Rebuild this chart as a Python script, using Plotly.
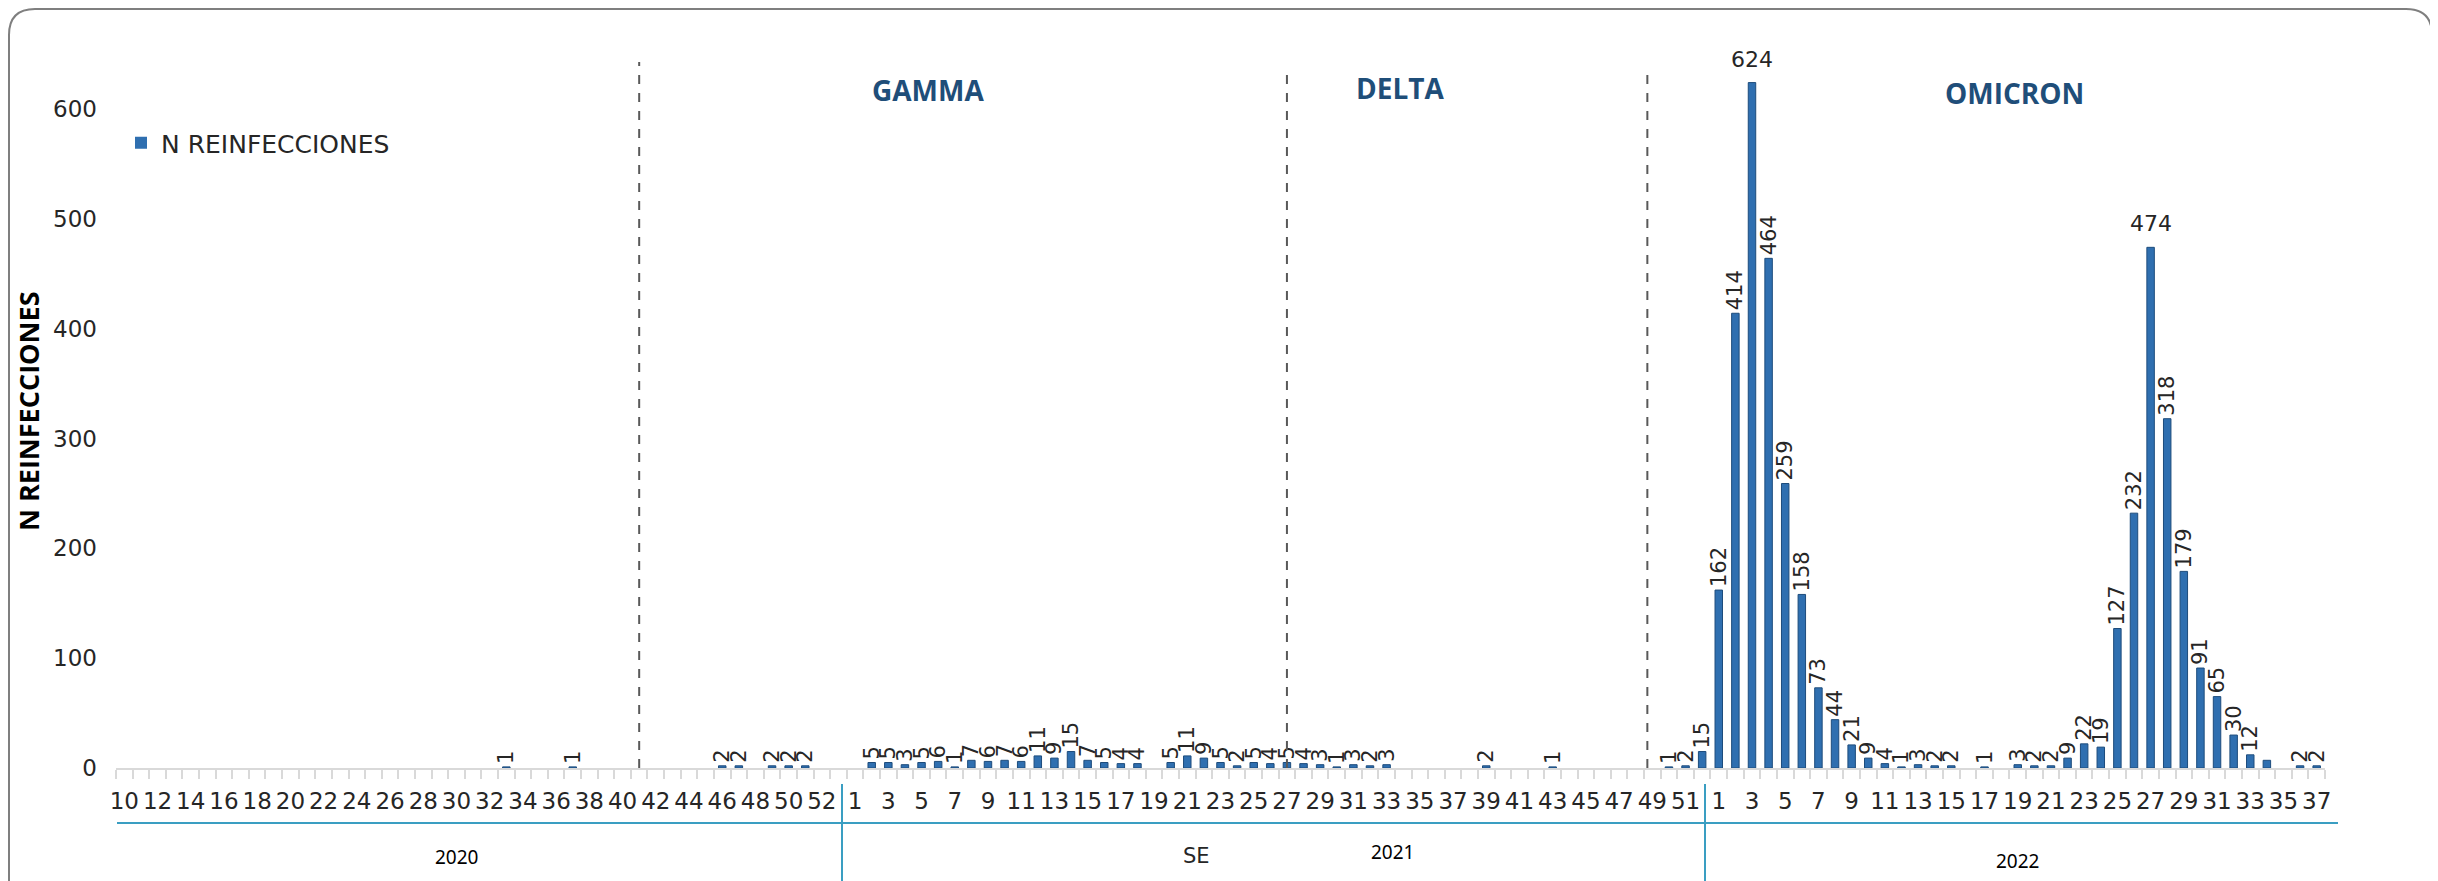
import plotly.graph_objects as go

# ---------------- data ----------------
weeks_2020 = list(range(10, 54))
reinf_2020 = [0, 0, 0, 0, 0, 0, 0, 0, 0, 0,
              0, 0, 0, 0, 0, 0, 0, 0, 0, 0,
              0, 0, 0, 1, 0, 0, 0, 1, 0, 0,
              0, 0, 0, 0, 0, 0, 2, 2, 0, 2,
              2, 2, 0, 0]
weeks_2021 = list(range(1, 53))
reinf_2021 = [0, 5, 5, 3, 5, 6, 1, 7, 6, 7,
              6, 11, 9, 15, 7, 5, 4, 4, 0, 5,
              11, 9, 5, 2, 5, 4, 5, 4, 3, 1,
              3, 2, 3, 0, 0, 0, 0, 0, 2, 0,
              0, 0, 1, 0, 0, 0, 0, 0, 0, 1,
              2, 15]
weeks_2022 = list(range(1, 38))
reinf_2022 = [162, 414, 624, 464, 259, 158, 73, 44, 21, 9,
              4, 1, 3, 2, 2, 0, 1, 0, 3, 2,
              2, 9, 22, 19, 127, 232, 474, 318, 179, 91,
              65, 30, 12, 7, 0, 2, 2]
years = ["2020", "2021", "2022"]
variants = ["GAMMA", "DELTA", "OMICRON"]
y_ticks = [0, 100, 200, 300, 400, 500, 600]
horizontal_labels = [("2022", 3), ("2022", 27)]   # labels drawn horizontally
hidden_labels = [("2022", 34)]                     # label not shown in source
series_name = "N REINFECCIONES"

# ---------------- assemble ----------------
weeks = weeks_2020 + weeks_2021 + weeks_2022
values = reinf_2020 + reinf_2021 + reinf_2022
year_of = [years[0]] * len(weeks_2020) + [years[1]] * len(weeks_2021) + [years[2]] * len(weeks_2022)
idx = list(range(len(values)))


def index_of(year, week):
    for i, (y, w) in enumerate(zip(year_of, weeks)):
        if y == year and w == week:
            return i
    return None


special = set(horizontal_labels) | set(hidden_labels)
text = [("" if (v == 0 or (yr, w) in special) else str(v))
        for v, yr, w in zip(values, year_of, weeks)]
outline_w = [1 if v > 0 else 0 for v in values]

# ---------------- geometry ----------------
# page body has an 8px margin; the figure is sized to fit the 2438x881 window
OFF = 8
FIG_W, FIG_H = 2438 - OFF, 881 - OFF
ML, MR, MT, MB = 108, 113, 57, 113
PW = FIG_W - ML - MR
PH = FIG_H - MT - MB


def px(X):
    """reference-window pixel x -> paper"""
    return (X - OFF - ML) / PW


def py(Y):
    """reference-window pixel y -> paper"""
    return (FIG_H - MB - (Y - OFF)) / PH


NUM_FONT = "DejaVu Sans"
TXT_COL = "#262626"

fig = go.Figure()
fig.add_trace(go.Bar(
    x=idx, y=values, text=text, name=series_name,
    textposition="outside", textangle=-90, constraintext="none",
    cliponaxis=False,
    textfont=dict(family=NUM_FONT, size=21, color=TXT_COL),
    width=0.45,
    marker=dict(color="#2F6FB0", line=dict(color="#1D4C7C", width=outline_w)),
    showlegend=True,
))

# horizontal labels for the two peaks
annotations = []
for (yr, w) in horizontal_labels:
    i = index_of(yr, w)
    annotations.append(dict(x=i, y=values[i], xref="x", yref="y", text=str(values[i]),
                            showarrow=False, yanchor="bottom", yshift=9,
                            font=dict(family=NUM_FONT, size=22, color=TXT_COL)))

# variant dividers (dashed)
divider_pos = [index_of("2020", 41), index_of("2021", 27), index_of("2021", 49) - 0.3]
divider_top = [62, 68, 66]
shapes = []
for xpos, top in zip(divider_pos, divider_top):
    shapes.append(dict(type="line", xref="x", yref="paper", x0=xpos, x1=xpos,
                       y0=0, y1=py(top), line=dict(color="#595959", width=2, dash="dash")))

# variant names
variant_xy = [(928, 90), (1400, 88), (2014, 93)]
for name, (X, Y) in zip(variants, variant_xy):
    annotations.append(dict(x=px(X), y=py(Y), xref="paper", yref="paper", text="<b>%s</b>" % name,
                            showarrow=False, xanchor="center", yanchor="middle",
                            font=dict(family="Open Sans", size=28, color="#1F4E79")))

# multi-level axis: year group lines and labels
TEAL = "#3A9EC2"
shapes.append(dict(type="line", xref="paper", yref="paper", x0=px(117), x1=px(2338),
                   y0=py(823), y1=py(823), line=dict(color=TEAL, width=2)))
for X in (842, 1705):
    shapes.append(dict(type="line", xref="paper", yref="paper", x0=px(X), x1=px(X),
                       y0=py(784), y1=py(900), line=dict(color=TEAL, width=2)))
year_xy = [(456, 857), (1392, 852), (2018, 861)]
for name, (X, Y) in zip(years, year_xy):
    annotations.append(dict(x=px(X), y=py(Y), xref="paper", yref="paper", text=name,
                            showarrow=False, xanchor="center", yanchor="middle",
                            font=dict(family="Noto Sans", size=19, color="#000000")))
annotations.append(dict(x=px(1196), y=py(856), xref="paper", yref="paper", text="SE",
                        showarrow=False, xanchor="center", yanchor="middle",
                        font=dict(family=NUM_FONT, size=21, color=TXT_COL)))

# y-axis title
annotations.append(dict(x=px(28), y=py(411), xref="paper", yref="paper",
                        text="<b>N REINFECCIONES</b>", textangle=-90, showarrow=False,
                        xanchor="center", yanchor="middle",
                        font=dict(family="Open Sans", size=27, color="#000000")))

# rounded outer border
R = 26
bx0, bx1, by0, by1 = 9, 2432, 9, 905
path = ("M {a},{b} L {a},{c} Q {a},{d} {e},{d} L {f},{d} Q {g},{d} {g},{c} L {g},{b}"
        .format(a=px(bx0), b=py(by1), c=py(by0 + R), d=py(by0), e=px(bx0 + R),
                f=px(bx1 - R), g=px(bx1)))
shapes.append(dict(type="path", xref="paper", yref="paper", path=path,
                   line=dict(color="#7F7F7F", width=2)))

fig.update_layout(
    width=FIG_W, height=FIG_H,
    margin=dict(l=ML, r=MR, t=MT, b=MB),
    paper_bgcolor="white", plot_bgcolor="rgba(0,0,0,0)",
    bargap=0.5,
    shapes=shapes, annotations=annotations,
    legend=dict(x=px(121), y=py(143), xanchor="left", yanchor="middle",
                bgcolor="rgba(0,0,0,0)",
                font=dict(family=NUM_FONT, size=25, color=TXT_COL)),
    xaxis=dict(
        range=[-0.5, len(values) - 0.5],
        tickmode="array",
        tickvals=idx[::2], ticktext=[str(w) for w in weeks[::2]],
        tickangle=0, ticks="", showgrid=False, zeroline=False,
        showline=True, linecolor="#D9D9D9", linewidth=2,
        tickfont=dict(family=NUM_FONT, size=23, color=TXT_COL),
        ticklabelstandoff=11,
        minor=dict(ticks="outside", tickmode="linear", tick0=-0.5, dtick=1,
                   ticklen=9, tickwidth=2, tickcolor="#D9D9D9", showgrid=False),
        fixedrange=True,
    ),
    yaxis=dict(
        range=[0, 640], tickmode="array", tickvals=y_ticks,
        ticks="", showgrid=False, zeroline=False, showline=False,
        tickfont=dict(family=NUM_FONT, size=23, color=TXT_COL),
        ticklabelstandoff=18,
    ),
)

fig.write_html("out.html")
